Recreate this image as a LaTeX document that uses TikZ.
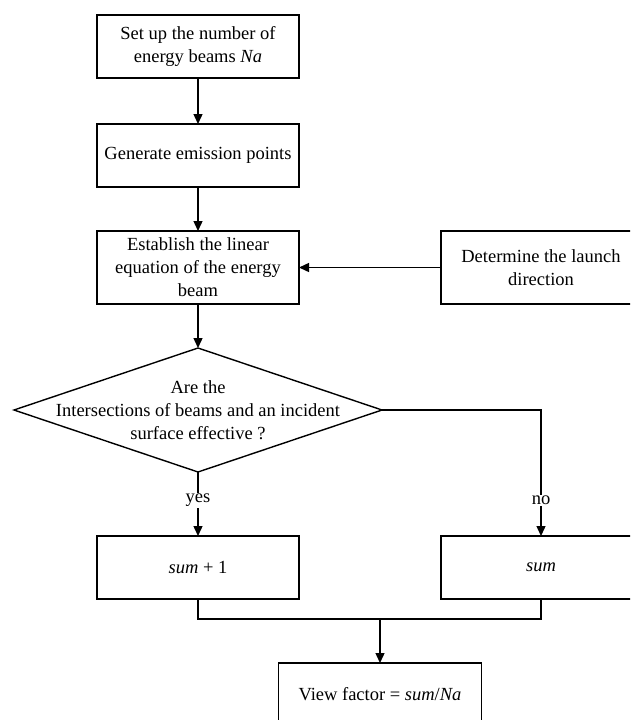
\documentclass[tikz,border=0pt]{standalone}
\usepackage{fontspec}
\setmainfont{Liberation Serif}
\usetikzlibrary{shapes.geometric,arrows.meta}
\begin{document}
\begin{tikzpicture}[x=1pt,y=-1pt,
  txt/.style={font=\fontsize{18.5}{23}\selectfont, align=center},
  box/.style={txt, draw, line width=1.4pt, minimum width=202pt, minimum height=63pt, inner sep=0pt, outer sep=0pt},
  lbl/.style={txt, fill=white, inner sep=1pt},
  conn/.style={line width=1.4pt, -{Triangle[length=10pt,width=9pt]}},
  plain/.style={line width=1.4pt}]
\clip (0,0) rectangle (630,720);
\fill[white] (0,0) rectangle (630,720);

\node[box] (b1) at (198,46.5) {Set up the number of\\energy beams \textit{Na}};
\node[box] (b2) at (198,155.5) {Generate emission points};
\node[box, minimum height=73pt] (b3) at (198,267.5) {Establish the linear\\equation of the energy\\beam};
\node[box, minimum width=200pt, minimum height=73pt] (bd) at (541,267.5) {Determine the launch\\direction};
\node[diamond, draw, line width=1.4pt, minimum width=368pt, minimum height=124pt, inner sep=0pt, outer sep=0pt] (q) at (198,410) {};
\node[txt] (qt) at (198,410) {Are the\\Intersections of beams and an incident\\surface effective ?};
\node[box] (b4) at (198,567.5) {\textit{sum} + 1};
\node[box, minimum width=200pt] (b5) at (541,567.5) {\textit{sum}};
\node[box, minimum width=203pt] (b6) at (380,694.5) {View factor = \textit{sum}/\textit{Na}};

\coordinate (nc) at (541,410);
\coordinate (m1) at (198,619);
\coordinate (m2) at (541,619);
\coordinate (mm) at (380,619);

\draw[conn] (b1) -- (b2);
\draw[conn] (b2) -- (b3);
\draw[conn] (bd) -- (b3);
\draw[conn] (b3) -- (q);
\draw[conn] (q.south) -- node[lbl, pos=0.44] {yes} (b4.north);
\draw[conn] (q.east) -- (nc) -- node[lbl, pos=0.72] {no} (b5.north);
\draw[plain] (b4.south) -- (m1) -- (m2) -- (b5.south);
\draw[conn] (mm) -- (b6.north);
\end{tikzpicture}
\end{document}
